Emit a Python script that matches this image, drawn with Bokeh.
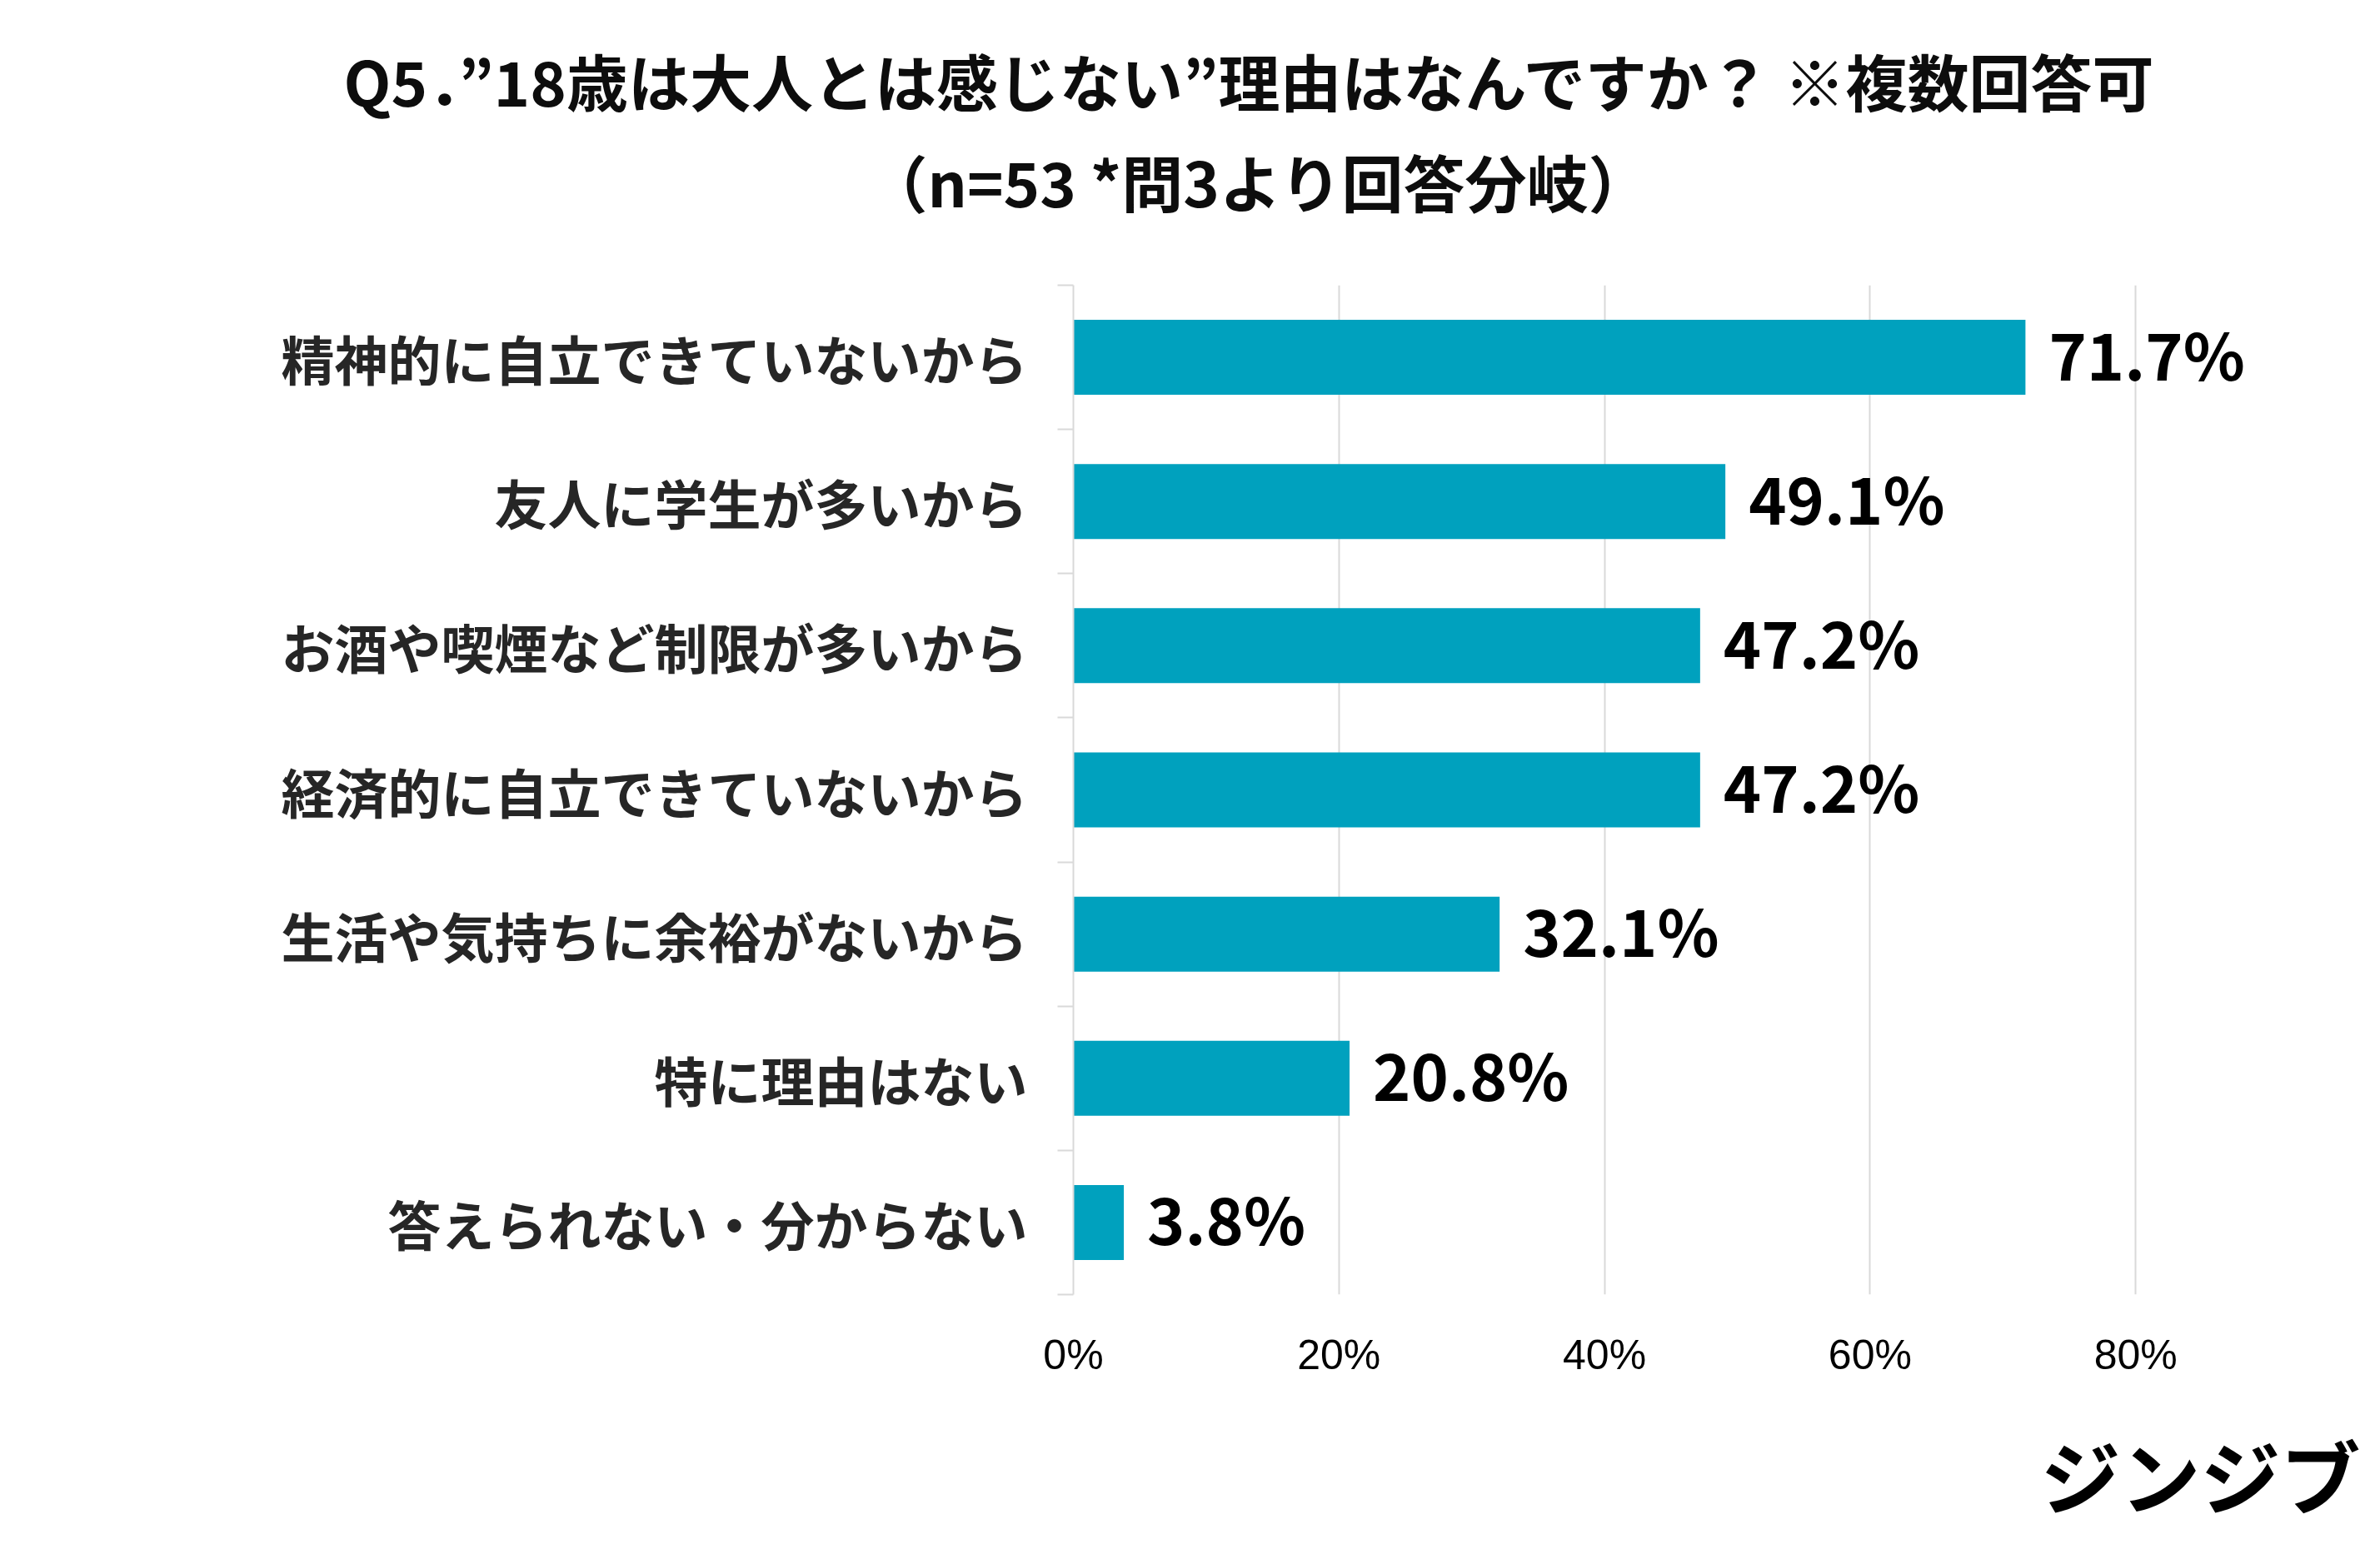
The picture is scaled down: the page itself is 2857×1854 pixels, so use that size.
from bokeh.plotting import figure
from bokeh.models import (ColumnDataSource, Range1d, LinearAxis, Grid, Title,
                          FixedTicker, PrintfTickFormatter)
from bokeh.core.properties import value
from bokeh.embed import file_html
from bokeh.resources import INLINE

categories = ["精神的に自立できていないから", "友人に学生が多いから", "お酒や喫煙など制限が多いから",
              "経済的に自立できていないから", "生活や気持ちに余裕がないから", "特に理由はない",
              "答えられない・分からない"]
values = [71.7, 49.1, 47.2, 47.2, 32.1, 20.8, 3.8]
x_ticks = [0, 20, 40, 60, 80]
title_line1 = "Q5．”18歳は大人とは感じない”理由はなんですか？ ※複数回答可"
title_line2 = "（n=53 *問3より回答分岐）"
logo_text = "ジンジブ"

BAR = "#00a1be"
GRID = "#d9d9d9"
JP = "Noto Sans CJK JP"

W, H = 2841, 1838
FL, FR, FT, FB = 1288, 2833, 342, 1558
PX_PER_UNIT = 15.94

n = len(categories)
ypos = [n - i - 0.5 for i in range(n)]          # band centres, first category on top
src = ColumnDataSource(dict(y=ypos, val=values, lab=[f"{v}%" for v in values]))

p = figure(width=W, height=H, output_backend="svg", toolbar_location=None,
           y_range=Range1d(0, n), x_range=Range1d(0, (FR - FL) / PX_PER_UNIT),
           x_axis_location=None, y_axis_location=None,
           min_border_left=FL, min_border_right=W - FR, min_border_top=FT, min_border_bottom=H - FB)
p.outline_line_color = None
p.background_fill_color = "white"
p.border_fill_color = "white"

# inner y axis: line at 0% plus short ticks at category boundaries
bax = LinearAxis(ticker=FixedTicker(ticks=list(range(n + 1))),
                 major_label_overrides={i: "" for i in range(n + 1)},
                 major_label_text_font_size="1px", major_label_standoff=0,
                 major_tick_out=19, major_tick_in=0, minor_tick_line_color=None,
                 major_tick_line_color=GRID, major_tick_line_width=2,
                 axis_line_color=GRID, axis_line_width=2)
p.add_layout(bax, "left")

# outer y axis: category names at band centres
cax = LinearAxis(ticker=FixedTicker(ticks=ypos),
                 major_label_overrides={y: c for y, c in zip(ypos, categories)},
                 axis_line_color=None, major_tick_line_color=None, minor_tick_line_color=None,
                 major_label_text_font=JP, major_label_text_font_size="64px",
                 major_label_text_font_style="bold", major_label_text_color="#262626",
                 major_label_standoff=30)
p.add_layout(cax, "left")

xax = LinearAxis(ticker=FixedTicker(ticks=x_ticks), formatter=PrintfTickFormatter(format="%d%%"),
                 axis_line_color=None, major_tick_line_color=None, minor_tick_line_color=None,
                 major_label_text_font="Liberation Sans", major_label_text_font_size="50px",
                 major_label_text_color="#000000", major_label_standoff=38)
p.add_layout(xax, "below")

p.ygrid.grid_line_color = None
p.xgrid.grid_line_color = None
p.add_layout(Grid(dimension=0, ticker=FixedTicker(ticks=x_ticks), grid_line_color=GRID,
                  grid_line_width=2))

p.hbar(y="y", right="val", left=0, height=0.52, source=src, fill_color=BAR, line_color=None)
p.text(x="val", y="y", text="lab", source=src, x_offset=28, y_offset=-6, text_baseline="middle",
       text_align="left", text_font=value(JP), text_font_size="77px", text_font_style="bold",
       text_color="#000000")

# titles (closest to the frame first)
p.add_layout(Title(text=" ", text_font_size="50px"), "above")
p.add_layout(Title(text=title_line2, align="left", offset=1039 - FL, text_font=JP,
                   text_font_size="74px", text_font_style="bold", text_color="#0d0d0d"), "above")
p.add_layout(Title(text=title_line1, align="left", offset=412 - FL, text_font=JP, standoff=14,
                   text_font_size="74px", text_font_style="bold", text_color="#0d0d0d"), "above")

# logo below the x axis
p.add_layout(Title(text=" ", text_font_size="25px"), "below")
p.add_layout(Title(text=logo_text, align="right", offset=0, standoff=0, text_font=JP,
                   text_font_size="96px", text_font_style="bold", text_color="#000000"), "below")

open("out.html", "w").write(file_html(p, INLINE))
